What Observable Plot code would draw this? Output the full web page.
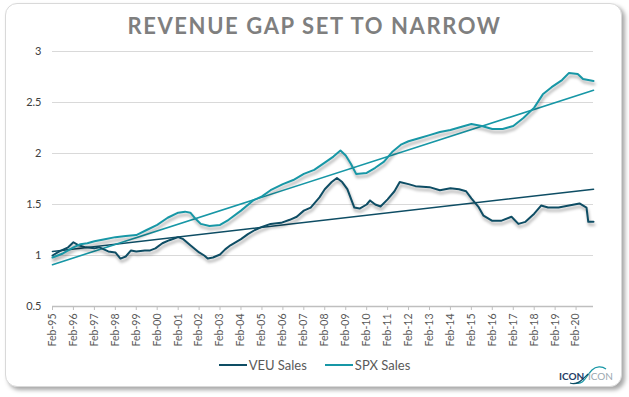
<!DOCTYPE html>
<html>
<head>
<meta charset="utf-8">
<script src="https://cdn.jsdelivr.net/npm/d3@7"></script>
<script src="https://cdn.jsdelivr.net/npm/@observablehq/plot@0.6"></script>
<style>
  html, body { margin: 0; padding: 0; background: #ffffff; }
  body { width: 629px; height: 397px; position: relative; overflow: hidden; font-family: Lato, "Open Sans", sans-serif; }
  #card { position: absolute; left: 5px; top: 3px; width: 615px; height: 382px; border: 1px solid #d9d9d9; border-radius: 12px; background: #fff; box-shadow: 3px 3px 4px rgba(0,0,0,0.35); }
  #title { position: absolute; left: 0; width: 629px; top: 12px; text-align: center; font-family: Lato, sans-serif; font-weight: 700; font-size: 22px; letter-spacing: 1.6px; color: #7f7f7f; }
  #chart { position: absolute; left: 0; top: 0; }
  #chart svg { font-family: Lato, sans-serif; }
  g[aria-label="y-axis tick label"] { fill: #404040; }
  g[aria-label="x-axis tick label"] { fill: #595959; }
  g[aria-label="x-axis tick"] { stroke: #bfbfbf; }
  .shadowed { filter: drop-shadow(1px 3px 1.5px rgba(0,0,0,0.35)); }
  #legend { position: absolute; top: 357px; left: 0; width: 629px; display: flex; justify-content: center; gap: 18px; font-size: 13px; color: #595959; font-family: Lato, sans-serif; }
  #legend .item { display: flex; align-items: center; }
  #legend .sw { display: inline-block; width: 28px; height: 2.5px; margin-right: 2px; }
  #logo { position: absolute; left: 556px; top: 364px; }
</style>
</head>
<body>
<div id="card"></div>
<div id="title">REVENUE GAP SET TO NARROW</div>
<div id="chart"></div>
<div id="legend"></div>
<svg id="logo" width="62" height="22" viewBox="0 0 62 22">
  <path d="M20,19 C28,21 30,12 36,6 C40,2 46,2 50,5" fill="none" stroke="#1797a6" stroke-width="1.2"/>
  <path d="M14,19 C22,22 28,14 32,10" fill="none" stroke="#0e4d64" stroke-width="1.2"/>
  <text x="3" y="16" font-family="Lato, sans-serif" font-size="10" font-weight="700" fill="#1f3d66">ICON</text>
  <text x="32" y="16" font-family="Lato, sans-serif" font-size="10" fill="#9aa7b0">ICON</text>
</svg>
<script>
// ---- data ----
const veuDates = ["1995-02","1995-06","1995-11","1996-02","1996-05","1996-09","1997-02","1997-05","1997-10","1998-02","1998-05","1998-08","1998-11","1999-02","1999-07","1999-10","2000-01","2000-05","2000-09","2001-02","2001-05","2001-09","2002-02","2002-05","2002-07","2002-10","2003-02","2003-05","2003-08","2004-02","2004-06","2004-10","2005-02","2005-07","2006-01","2006-06","2006-10","2007-02","2007-06","2007-11","2008-02","2008-06","2008-09","2008-12","2009-03","2009-07","2009-10","2010-02","2010-04","2010-07","2010-10","2011-02","2011-06","2011-09","2012-02","2012-06","2013-02","2013-08","2014-02","2014-07","2014-11","2015-02","2015-06","2015-09","2016-02","2016-07","2017-01","2017-05","2017-09","2018-02","2018-06","2018-10","2019-04","2019-10","2020-04","2020-08","2020-09","2020-12"];
const veuValues = [1.00,1.04,1.08,1.13,1.10,1.08,1.07,1.08,1.04,1.03,0.97,0.99,1.05,1.04,1.05,1.05,1.07,1.12,1.15,1.18,1.16,1.10,1.03,1.00,0.97,0.98,1.01,1.06,1.10,1.16,1.21,1.25,1.28,1.31,1.32,1.35,1.38,1.44,1.47,1.57,1.65,1.72,1.76,1.72,1.65,1.47,1.46,1.50,1.54,1.50,1.48,1.55,1.63,1.72,1.70,1.68,1.67,1.64,1.66,1.65,1.63,1.56,1.48,1.39,1.34,1.34,1.38,1.31,1.33,1.41,1.49,1.47,1.47,1.49,1.51,1.47,1.33,1.33];

const spxDates = ["1995-02","1995-08","1996-02","1996-06","1996-10","1997-02","1997-08","1998-02","1998-08","1999-02","1999-08","2000-02","2000-08","2001-02","2001-06","2001-09","2001-12","2002-03","2002-08","2003-02","2003-07","2004-02","2004-09","2005-02","2005-07","2006-02","2006-08","2007-02","2007-08","2008-02","2008-07","2008-11","2009-02","2009-05","2009-08","2010-02","2010-07","2010-12","2011-05","2011-10","2012-02","2012-08","2013-02","2013-08","2014-02","2014-08","2015-02","2015-08","2016-02","2016-08","2017-02","2017-08","2018-02","2018-07","2018-12","2019-06","2019-10","2020-03","2020-06","2020-12"];
const spxValues = [0.98,1.02,1.08,1.11,1.12,1.14,1.16,1.18,1.19,1.20,1.25,1.30,1.37,1.42,1.43,1.42,1.36,1.31,1.29,1.30,1.35,1.44,1.54,1.58,1.64,1.70,1.74,1.80,1.84,1.91,1.97,2.03,1.98,1.90,1.80,1.81,1.86,1.92,2.02,2.09,2.12,2.15,2.18,2.21,2.23,2.26,2.29,2.27,2.24,2.24,2.27,2.35,2.45,2.58,2.65,2.72,2.79,2.78,2.73,2.71];

const trendDates = ["1995-02","2020-12"];
const veuTrend = [1.04, 1.65];
const spxTrend = [0.91, 2.62];

const tickLabels = ["Feb-95","Feb-96","Feb-97","Feb-98","Feb-99","Feb-00","Feb-01","Feb-02","Feb-03","Feb-04","Feb-05","Feb-06","Feb-07","Feb-08","Feb-09","Feb-10","Feb-11","Feb-12","Feb-13","Feb-14","Feb-15","Feb-16","Feb-17","Feb-18","Feb-19","Feb-20"];
const yTicks = [0.5, 1, 1.5, 2, 2.5, 3];

const seriesNames = ["VEU Sales", "SPX Sales"];
const seriesColors = ["#0e4d64", "#1797a6"];

// ---- build tables ----
const parse = d3.utcParse("%Y-%m");
const parseTick = d3.utcParse("%b-%y");
const veu = veuDates.map((d, i) => ({date: parse(d), value: veuValues[i]}));
const spx = spxDates.map((d, i) => ({date: parse(d), value: spxValues[i]}));
const veuT = trendDates.map((d, i) => ({date: parse(d), value: veuTrend[i]}));
const spxT = trendDates.map((d, i) => ({date: parse(d), value: spxTrend[i]}));
const tickDates = tickLabels.map(parseTick);
const fmt = d3.utcFormat("%b-%y");

const chart = Plot.plot({
  width: 629,
  height: 360,
  marginLeft: 52,
  marginRight: 36,
  marginTop: 51,
  marginBottom: 54,
  style: {background: "transparent", overflow: "visible"},
  x: {type: "utc", domain: [parse(trendDates[0]), parse(trendDates[1])]},
  y: {domain: [0.5, 3]},
  marks: [
    Plot.gridY(yTicks, {stroke: "#d9d9d9", strokeOpacity: 1, strokeWidth: 1}),
    Plot.axisY(yTicks, {tickSize: 0, tickPadding: 11, fontSize: 11, label: null, tickFormat: d => String(d)}),
    Plot.ruleY([0.5], {stroke: "#bfbfbf", strokeWidth: 1.3}),
    Plot.axisX(tickDates, {tickSize: 4, tickRotate: -90, tickPadding: 3, fontSize: 10.5, label: null, tickFormat: fmt}),
    Plot.line(veuT, {x: "date", y: "value", stroke: seriesColors[0], strokeWidth: 1.6}),
    Plot.line(spxT, {x: "date", y: "value", stroke: seriesColors[1], strokeWidth: 1.6}),
    Plot.line(veu, {x: "date", y: "value", stroke: seriesColors[0], strokeWidth: 2}),
    Plot.line(spx, {x: "date", y: "value", stroke: seriesColors[1], strokeWidth: 2})
  ]
});
document.getElementById("chart").appendChild(chart);
const lineGroups = chart.querySelectorAll('g[aria-label="line"]');
lineGroups.forEach((g, i) => { if (i >= lineGroups.length - 2) g.classList.add("shadowed"); });

const legend = document.getElementById("legend");
seriesNames.forEach((n, i) => {
  const it = document.createElement("div");
  it.className = "item";
  const sw = document.createElement("span");
  sw.className = "sw";
  sw.style.background = seriesColors[i];
  const tx = document.createElement("span");
  tx.textContent = n;
  it.appendChild(sw); it.appendChild(tx);
  legend.appendChild(it);
});
</script>
</body>
</html>
